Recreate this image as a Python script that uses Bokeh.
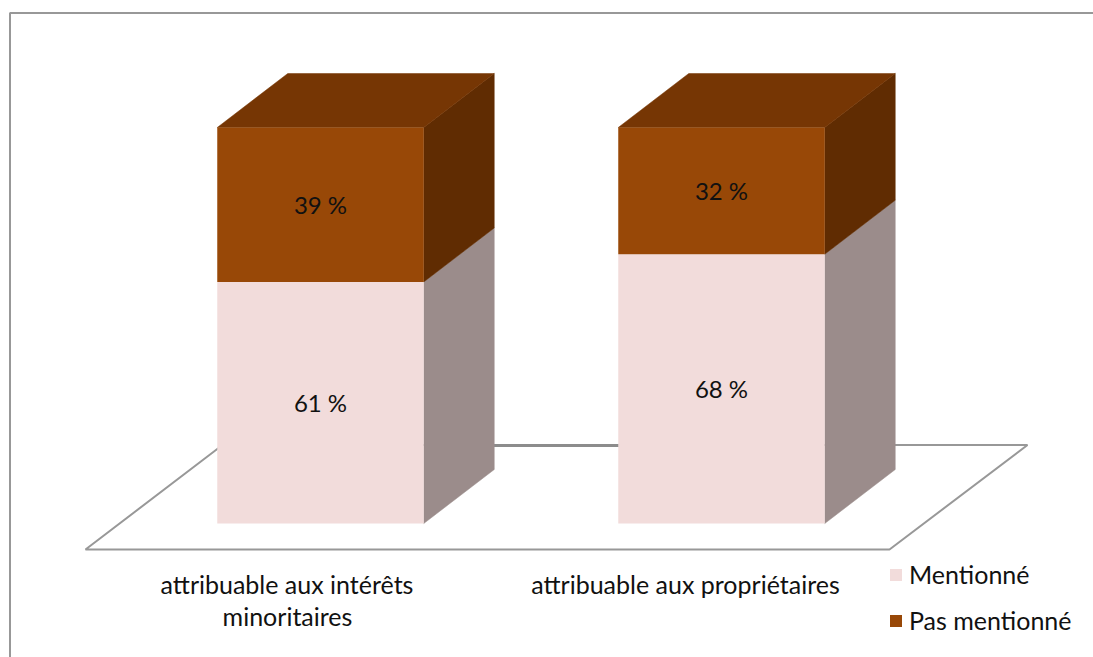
from bokeh.plotting import figure
from bokeh.models import Legend, LegendItem, Range1d
from bokeh.core.properties import value
from bokeh.embed import file_html
from bokeh.resources import INLINE

# Survey shares by category
categories = ["attribuable aux intérêts\nminoritaires", "attribuable aux propriétaires"]
mentionne = [61, 68]
pas_mentionne = [39, 32]
series_names = ["Mentionné", "Pas mentionné"]
FONT = "Lato"

# Scale: one category step and one percentage point in page pixels
W, H = 1093, 657
PX_PER_CAT = 401.0
PX_PER_PCT = 3.96
X0_PX, Y0_PX = 320.0, 523.0

def dx(px):
    return px / PX_PER_CAT

def dy(px):
    return px / PX_PER_PCT

def xd(px):
    return (px - X0_PX) / PX_PER_CAT

def yd(px):
    return (Y0_PX - px) / PX_PER_PCT

p = figure(width=W, height=H, output_backend="svg", toolbar_location=None,
           x_range=Range1d(xd(0), xd(W)), y_range=Range1d(yd(H), yd(0)),
           min_border=0, min_border_left=0, min_border_right=0,
           min_border_top=0, min_border_bottom=0)
p.axis.visible = False
p.grid.visible = False
p.outline_line_color = None
p.background_fill_color = "white"

GREY = "#989898"

# Outer frame, left and top edges only
p.line([xd(9.5), xd(9.5), xd(W)], [yd(H), yd(12.5), yd(12.5)], line_color=GREY, line_width=2)

# Floor of the 3D plot
p.line([xd(222), xd(85), xd(889), xd(1027), xd(222)],
       [yd(444.5), yd(549), yd(549), yd(444.5), yd(444.5)], line_color=GREY, line_width=2)
p.line([xd(490), xd(620)], [yd(445), yd(445)], line_color="#8c8c8c", line_width=3)

BAR_W = 206.5 / PX_PER_CAT
DEPTH_X = dx(70.5)
DEPTH_Y = dy(54)
PINK, PINK_SIDE = "#F2DCDB", "#9B8C8B"
BROWN, BROWN_TOP, BROWN_SIDE = "#984807", "#763604", "#602C02"

for i, (a, b) in enumerate(zip(mentionne, pas_mentionne)):
    l, r = i - BAR_W / 2, i + BAR_W / 2
    top = a + b
    # side faces
    p.patch([r, r + DEPTH_X, r + DEPTH_X, r], [0, DEPTH_Y, a + DEPTH_Y, a],
            fill_color=PINK_SIDE, line_color=PINK_SIDE, line_width=0.5)
    p.patch([r, r + DEPTH_X, r + DEPTH_X, r], [a, a + DEPTH_Y, top + DEPTH_Y, top],
            fill_color=BROWN_SIDE, line_color=BROWN_SIDE, line_width=0.5)
    # top face
    p.patch([l, l + DEPTH_X, r + DEPTH_X, r], [top, top + DEPTH_Y, top + DEPTH_Y, top],
            fill_color=BROWN_TOP, line_color=BROWN_TOP, line_width=0.5)

xs = list(range(len(categories)))
r_pink = p.vbar(x=xs, width=BAR_W, bottom=0, top=mentionne, fill_color=PINK, line_color=None)
r_brown = p.vbar(x=xs, width=BAR_W, bottom=mentionne,
                 top=[a + b for a, b in zip(mentionne, pas_mentionne)],
                 fill_color=BROWN, line_color=None)

# Value labels centred in each segment
p.text(xs, [a / 2 for a in mentionne], text=[f"{a} %" for a in mentionne],
       text_font=value(FONT), text_font_size="24px", text_color="#111111",
       text_align="center", text_baseline="middle")
p.text(xs, [a + b / 2 for a, b in zip(mentionne, pas_mentionne)],
       text=[f"{b} %" for b in pas_mentionne],
       text_font=value(FONT), text_font_size="24px", text_color="#111111",
       text_align="center", text_baseline="middle")

# Category labels under the floor
p.text([xd(286.5), xd(287)], [yd(583), yd(615)],
       text=["attribuable aux intérêts", "minoritaires"],
       text_font=value(FONT), text_font_size="25px", text_color="#111111",
       text_align="center", text_baseline="middle")
p.text([xd(685)], [yd(583)], text=[categories[1]],
       text_font=value(FONT), text_font_size="25px", text_color="#111111",
       text_align="center", text_baseline="middle")

legend = Legend(items=[LegendItem(label=series_names[0], renderers=[r_pink]),
                       LegendItem(label=series_names[1], renderers=[r_brown])],
                orientation="vertical",
                glyph_width=15, glyph_height=15, spacing=16, padding=0, margin=0,
                label_text_font=FONT, label_text_font_size="25px", label_text_color="#111111",
                label_standoff=6, background_fill_alpha=0, border_line_color=None)
legend.location = (888, 22)
p.add_layout(legend, "center")

open("out.html", "w").write(file_html(p, INLINE))
